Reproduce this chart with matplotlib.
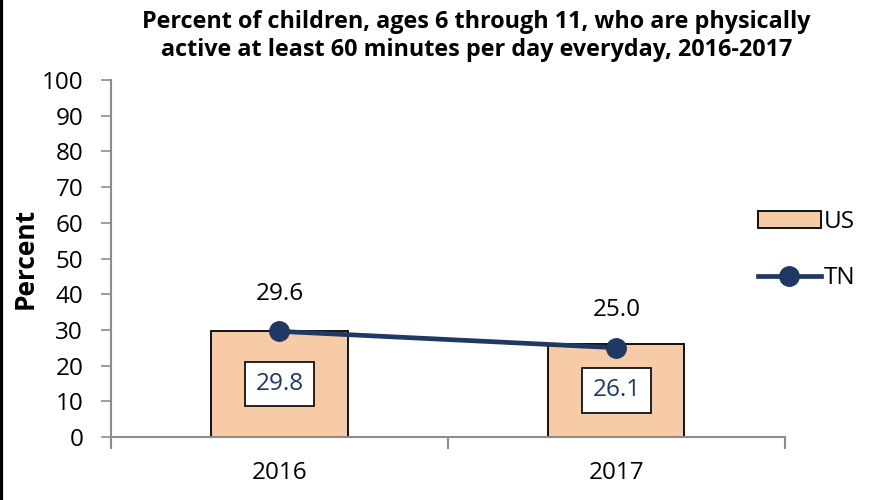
import numpy as np
import matplotlib.pyplot as plt
from matplotlib.lines import Line2D

plt.rcParams['font.family'] = ['Open Sans', 'DejaVu Sans']

years = ['2016', '2017']
us_values = [29.8, 26.1]
tn_values = [29.6, 25.0]
yticks = [0, 10, 20, 30, 40, 50, 60, 70, 80, 90, 100]

bar_color = '#F8CBA7'
navy = '#1F3864'
axis_gray = '#8C8C8C'

fig = plt.figure(figsize=(8.73, 5.0), dpi=100)
ax = fig.add_axes([0.1271, 0.126, 0.772, 0.714])

x = np.arange(len(years))
bars = ax.bar(x, us_values, width=0.404, color=bar_color, edgecolor='black',
              linewidth=1.3, label='US', zorder=2)
ax.plot(x, tn_values, color=navy, linewidth=3.4, marker='o', markersize=14,
        label='TN', zorder=3)

# US labels sit in white boxes in the middle of each bar
for xi, v in zip(x, us_values):
    ax.text(xi, v / 2, f'{v:.1f}', ha='center', va='center', fontsize=17.5,
            color=navy, zorder=4,
            bbox=dict(boxstyle='square,pad=0.42', fc='white', ec='black', lw=1.2))

# TN labels above the points
for xi, v in zip(x, tn_values):
    ax.annotate(f'{v:.1f}', (xi, v), xytext=(0, 27), textcoords='offset points',
                ha='center', va='center', fontsize=17.5, color='black', zorder=4)

ax.set_xlim(-0.5, len(years) - 0.5)
ax.set_ylim(0, 100)
ax.set_yticks(yticks)
ax.set_yticklabels([str(t) for t in yticks], fontsize=17.5)
ax.set_xticks(x)
ax.set_xticklabels(years, fontsize=17.5)
ax.tick_params(axis='x', length=0, pad=17)
ax.tick_params(axis='y', length=7, width=1.2, color=axis_gray, pad=13)

# category boundary ticks on the x axis
for b in [-0.5, 0.5, 1.5]:
    ax.plot([b, b], [0, -3], color=axis_gray, lw=1.5, clip_on=False, zorder=1)

for side in ['top', 'right']:
    ax.spines[side].set_visible(False)
for side in ['left', 'bottom']:
    ax.spines[side].set_color(axis_gray)
    ax.spines[side].set_linewidth(1.5)

ax.set_ylabel('Percent', fontsize=19, fontweight='bold', labelpad=2)

fig.text(0.546, 0.928, 'Percent of children, ages 6 through 11, who are physically\n'
         'active at least 60 minutes per day everyday, 2016-2017',
         ha='center', va='center', fontsize=16.8, fontweight='bold',
         linespacing=1.2)

handles = [
    plt.Rectangle((0, 0), 1, 1, fc=bar_color, ec='black', lw=1.3),
    Line2D([0], [0], color=navy, lw=3.4, marker='o', markersize=14),
]
fig.legend(handles, ['US', 'TN'], loc='center left', bbox_to_anchor=(0.857, 0.5),
           frameon=False, fontsize=17.5, handlelength=2.6, handletextpad=0.1,
           labelspacing=1.35, borderaxespad=0)

# thin frame line down the left edge
fig.add_artist(Line2D([0.0015, 0.0015], [0, 1], color='black', lw=3,
                      transform=fig.transFigure))

fig.savefig('out.png', dpi=100)
